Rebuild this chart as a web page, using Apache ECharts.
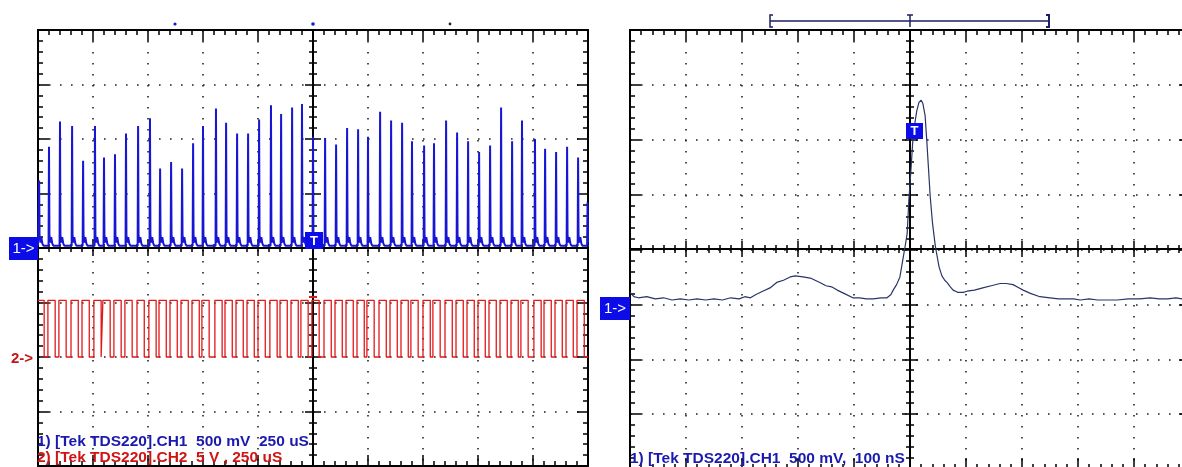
<!DOCTYPE html>
<html><head><meta charset="utf-8">
<script src="https://cdn.jsdelivr.net/npm/echarts@6/dist/echarts.min.js"></script>
<style>html,body{margin:0;padding:0;background:#fff}#c{width:1182px;height:467px}</style>
</head><body><div id="c"></div>
<script>
// ---------- LEFT SCOPE (250 uS/div) ----------
// CH1 spikes: time (uS) and peak (V), 500 mV/div
const ch1SpikeTimes = [-1245,-1200,-1150,-1095,-1045,-991,-950,-900,-850,-795,-741,-695,-645,-595,-545,-500,-441,-395,-345,-295,-245,-191,-145,-95,-50,0,55,105,155,205,250,305,355,405,450,505,550,605,655,705,755,805,855,905,950,1009,1055,1105,1155,1205,1248];
const ch1SpikePeaks = [0.62,0.93,1.16,1.12,0.80,1.12,0.83,0.86,1.05,1.12,1.19,0.73,0.79,0.73,0.96,1.12,1.28,1.15,1.05,1.05,1.18,1.31,1.23,1.29,1.32,1.02,1.01,0.95,1.10,1.09,1.02,1.25,1.17,1.15,0.98,0.94,0.96,1.17,1.06,0.98,0.88,0.94,1.29,0.98,1.17,1.00,0.91,0.88,0.93,0.83,0.42];
const ch1Baseline = 0.02;
const ch1Ring = [0.10, 0.03, 0.08, 0.02];   // small ringing after each spike (V)
// CH2 square wave (5 V/div): edge times in uS, starting high
const ch2Edges = [-1222,-1205,-1172,-1155,-1122,-1100,-1067,-1050,-1017,-996,-963,-955,-922,-905,-872,-855,-822,-800,-767,-746,-713,-700,-667,-650,-617,-600,-567,-550,-517,-505,-472,-446,-413,-400,-367,-350,-317,-300,-267,-250,-217,-196,-163,-150,-117,-100,-67,-55,-22,-5,28,50,83,100,133,150,183,200,233,245,278,300,333,350,383,400,433,445,478,500,533,545,578,600,633,650,683,700,733,750,783,800,833,850,883,900,933,945,978,1004,1037,1050,1083,1100,1133,1150,1183,1200,1233];
const ch2High = 5.2, ch2Low = 0;
// ---------- RIGHT SCOPE (100 nS/div) ----------
const rTimes = [-500,-493,-485,-470,-455,-440,-425,-410,-395,-380,-365,-350,-335,-320,-305,-295,-285,-275,-263,-250,-238,-226,-214,-205,-191,-178,-161,-150,-140,-130,-118,-102,-90,-78,-66,-52,-41,-34,-30,-24,-18,-13,-8,-5,-2,2,5,9,12,16,20,23,27,30,33,36,40,45,48,52,57,62,66,72,77,85,95,102,115,130,145,161,172,184,195,202,215,232,250,265,280,292,304,320,335,350,370,390,410,429,445,460,475,486,500];
const rVolts = [0.11,0.07,0.06,0.07,0.05,0.06,0.04,0.05,0.04,0.05,0.04,0.05,0.04,0.06,0.05,0.07,0.06,0.09,0.12,0.15,0.20,0.22,0.25,0.26,0.25,0.24,0.20,0.17,0.16,0.13,0.10,0.06,0.06,0.05,0.05,0.06,0.06,0.09,0.13,0.18,0.25,0.40,0.55,0.65,0.95,1.25,1.49,1.66,1.76,1.84,1.86,1.83,1.72,1.49,1.24,0.99,0.75,0.54,0.45,0.34,0.26,0.22,0.20,0.16,0.13,0.11,0.11,0.12,0.13,0.15,0.17,0.19,0.19,0.18,0.15,0.13,0.10,0.07,0.06,0.05,0.05,0.05,0.04,0.05,0.04,0.04,0.04,0.05,0.05,0.06,0.05,0.05,0.06,0.05,0.05];
// ---------- TEXTS ----------
const leftLabel1 = '1) [Tek TDS220].CH1  500 mV  250 uS';
const leftLabel2 = '2) [Tek TDS220].CH2  5 V , 250 uS';
const rightLabel = '1) [Tek TDS220].CH1  500 mV,  100 nS';

// build traces
const ch1Data = [[-1250, ch1Baseline]];
ch1SpikeTimes.forEach((t, i) => {
  const p = ch1SpikePeaks[i], b = ch1Baseline;
  ch1Data.push([t - 2, b], [t, p], [t + 2, b + ch1Ring[0]], [t + 6, b + ch1Ring[1]], [t + 10, b + ch1Ring[2]], [t + 15, b + ch1Ring[3]], [t + 20, b]);
});
ch1Data.push([1250, ch1Baseline]);
const ch2Data = [];
let lvl = ch2High;
ch2Data.push([-1250, lvl]);
ch2Edges.forEach(e => { ch2Data.push([e, lvl]); lvl = (lvl === ch2High) ? ch2Low : ch2High; ch2Data.push([e, lvl]); });
ch2Data.push([1250, lvl]);
const rData = rTimes.map((t, i) => [t, rVolts[i]]);

const FONT = '"Liberation Sans", Arial, sans-serif';
function ax(grid, pos, min, max, iv, extra) {
  const o = {
    type: 'value', gridIndex: grid, position: pos, min: min, max: max, interval: iv,
    axisLine: { show: true, onZero: false, lineStyle: { color: '#000', width: 2 } },
    axisTick: { show: true, inside: true, length: 11, lineStyle: { color: '#000', width: 1.5 } },
    minorTick: { show: true, splitNumber: 5, length: 5, lineStyle: { color: '#000', width: 1.5 } },
    axisLabel: { show: false }, splitLine: { show: false }, minorSplitLine: { show: false }
  };
  return Object.assign(o, extra || {});
}
function centerAx(grid, pos, min, max, iv, offset, inside) {
  return ax(grid, pos, min, max, iv, { offset: offset,
    axisTick: { show: true, inside: inside, length: 8, lineStyle: { color: '#000', width: 1.5 } },
    minorTick: { show: true, splitNumber: 5, length: 4, lineStyle: { color: '#000', width: 1.5 } } });
}
const dotted = { show: true, lineStyle: { color: '#222', width: 1.6, type: [1.6, 9.4] } };

const option = {
  animation: false,
  backgroundColor: '#fff',
  grid: [
    { left: 38, top: 30, width: 550, height: 436, containLabel: false, outerBoundsMode: 'none' },
    { left: 630, top: 30, width: 560, height: 439, containLabel: false, outerBoundsMode: 'none' }
  ],
  xAxis: [
    ax(0, 'bottom', -1250, 1250, 250, { splitLine: dotted }),
    ax(0, 'top', -1250, 1250, 250),
    centerAx(0, 'bottom', -1250, 1250, 250, -218, true),
    centerAx(0, 'bottom', -1250, 1250, 250, -218, false),
    ax(1, 'bottom', -500, 500, 100, { splitLine: dotted }),
    ax(1, 'top', -500, 500, 100),
    centerAx(1, 'bottom', -500, 500, 100, -220, true),
    centerAx(1, 'bottom', -500, 500, 100, -220, false)
  ],
  yAxis: [
    ax(0, 'left', -2, 2, 0.5, { splitLine: dotted }),
    ax(0, 'right', -2, 2, 0.5),
    centerAx(0, 'left', -2, 2, 0.5, -275, true),
    centerAx(0, 'left', -2, 2, 0.5, -275, false),
    { type: 'value', gridIndex: 0, min: -10, max: 30, interval: 5, show: false },
    ax(1, 'left', -1.5, 2.5, 0.5, { splitLine: dotted }),
    ax(1, 'right', -1.5, 2.5, 0.5),
    centerAx(1, 'left', -1.5, 2.5, 0.5, -280, true),
    centerAx(1, 'left', -1.5, 2.5, 0.5, -280, false)
  ],
  series: [
    { type: 'line', name: 'CH1', xAxisIndex: 0, yAxisIndex: 0, data: ch1Data, showSymbol: false, symbol: 'none', z: 6,
      lineStyle: { color: '#1616d4', width: 2 } },
    { type: 'line', name: 'CH2', xAxisIndex: 0, yAxisIndex: 4, data: ch2Data, showSymbol: false, symbol: 'none', z: 5,
      lineStyle: { color: '#e01818', width: 1.3 } },
    { type: 'line', name: 'CH1 zoom', xAxisIndex: 4, yAxisIndex: 5, data: rData, showSymbol: false, symbol: 'none', z: 6,
      lineStyle: { color: '#2a3468', width: 1.2 } }
  ],
  graphic: [
    // left channel markers
    { type: 'rect', shape: { x: 9, y: 237, width: 29, height: 23 }, style: { fill: '#0c0ce8' }, z: 50 },
    { type: 'text', x: 23.5, y: 249, style: { text: '1->', fill: '#fff', font: '15px ' + FONT, textAlign: 'center', textVerticalAlign: 'middle', align: 'center', verticalAlign: 'middle' }, z: 51 },
    { type: 'text', x: 22, y: 359, style: { text: '2->', fill: '#c41414', font: 'bold 15px ' + FONT, textAlign: 'center', textVerticalAlign: 'middle', align: 'center', verticalAlign: 'middle' }, z: 51 },
    { type: 'rect', shape: { x: 305, y: 232, width: 18, height: 17 }, style: { fill: '#0c0ce8' }, z: 50 },
    { type: 'text', x: 314, y: 241, style: { text: 'T', fill: '#fff', font: 'bold 13px ' + FONT, textAlign: 'center', textVerticalAlign: 'middle', align: 'center', verticalAlign: 'middle' }, z: 51 },
    // right channel markers
    { type: 'rect', shape: { x: 600, y: 297, width: 30, height: 23 }, style: { fill: '#0c0ce8' }, z: 50 },
    { type: 'text', x: 615, y: 309, style: { text: '1->', fill: '#fff', font: '15px ' + FONT, textAlign: 'center', textVerticalAlign: 'middle', align: 'center', verticalAlign: 'middle' }, z: 51 },
    { type: 'rect', shape: { x: 906, y: 123, width: 17, height: 16 }, style: { fill: '#0c0ce8' }, z: 50 },
    { type: 'text', x: 914.5, y: 131.5, style: { text: 'T', fill: '#fff', font: 'bold 13px ' + FONT, textAlign: 'center', textVerticalAlign: 'middle', align: 'center', verticalAlign: 'middle' }, z: 51 },
    // top markers left
    { type: 'circle', shape: { cx: 175, cy: 24, r: 1.6 }, style: { fill: '#1a1ad0' }, z: 50 },
    { type: 'circle', shape: { cx: 313, cy: 24, r: 1.8 }, style: { fill: '#1a1ad0' }, z: 50 },
    { type: 'circle', shape: { cx: 450, cy: 24, r: 1.4 }, style: { fill: '#223' }, z: 50 },
    // red trigger mark
    { type: 'polyline', shape: { points: [[309, 297], [317, 297]] }, style: { stroke: '#e01818', lineWidth: 2 }, z: 50 },
    // right top bracket
    { type: 'polyline', shape: { points: [[773, 15], [770, 15], [770, 27], [773, 27]] }, style: { stroke: '#1a2060', lineWidth: 1.5, fill: null }, z: 50 },
    { type: 'polyline', shape: { points: [[770, 21], [1049, 21]] }, style: { stroke: '#1a2060', lineWidth: 1.5 }, z: 50 },
    { type: 'polyline', shape: { points: [[1046, 15], [1049, 15], [1049, 27], [1046, 27]] }, style: { stroke: '#1a2060', lineWidth: 2, fill: null }, z: 50 },
    { type: 'polyline', shape: { points: [[907, 15], [913, 15]] }, style: { stroke: '#1a2060', lineWidth: 1.5 }, z: 50 },
    { type: 'polyline', shape: { points: [[910, 15], [910, 27]] }, style: { stroke: '#1a2060', lineWidth: 1.5 }, z: 50 },
    // bottom labels
    { type: 'text', x: 37, y: 442, style: { text: leftLabel1, fill: '#1a1ab0', font: 'bold 15.5px ' + FONT, textAlign: 'left', textVerticalAlign: 'middle', align: 'left', verticalAlign: 'middle' }, z: 52 },
    { type: 'text', x: 37, y: 458, style: { text: leftLabel2, fill: '#d01414', font: 'bold 15.5px ' + FONT, textAlign: 'left', textVerticalAlign: 'middle', align: 'left', verticalAlign: 'middle' }, z: 52 },
    { type: 'text', x: 630, y: 459, style: { text: rightLabel, fill: '#1a1ab0', font: 'bold 15.5px ' + FONT, textAlign: 'left', textVerticalAlign: 'middle', align: 'left', verticalAlign: 'middle' }, z: 52 }
  ]
};
const chart = echarts.init(document.getElementById('c'), null, { renderer: 'canvas' });
chart.setOption(option);
</script>
</body></html>
